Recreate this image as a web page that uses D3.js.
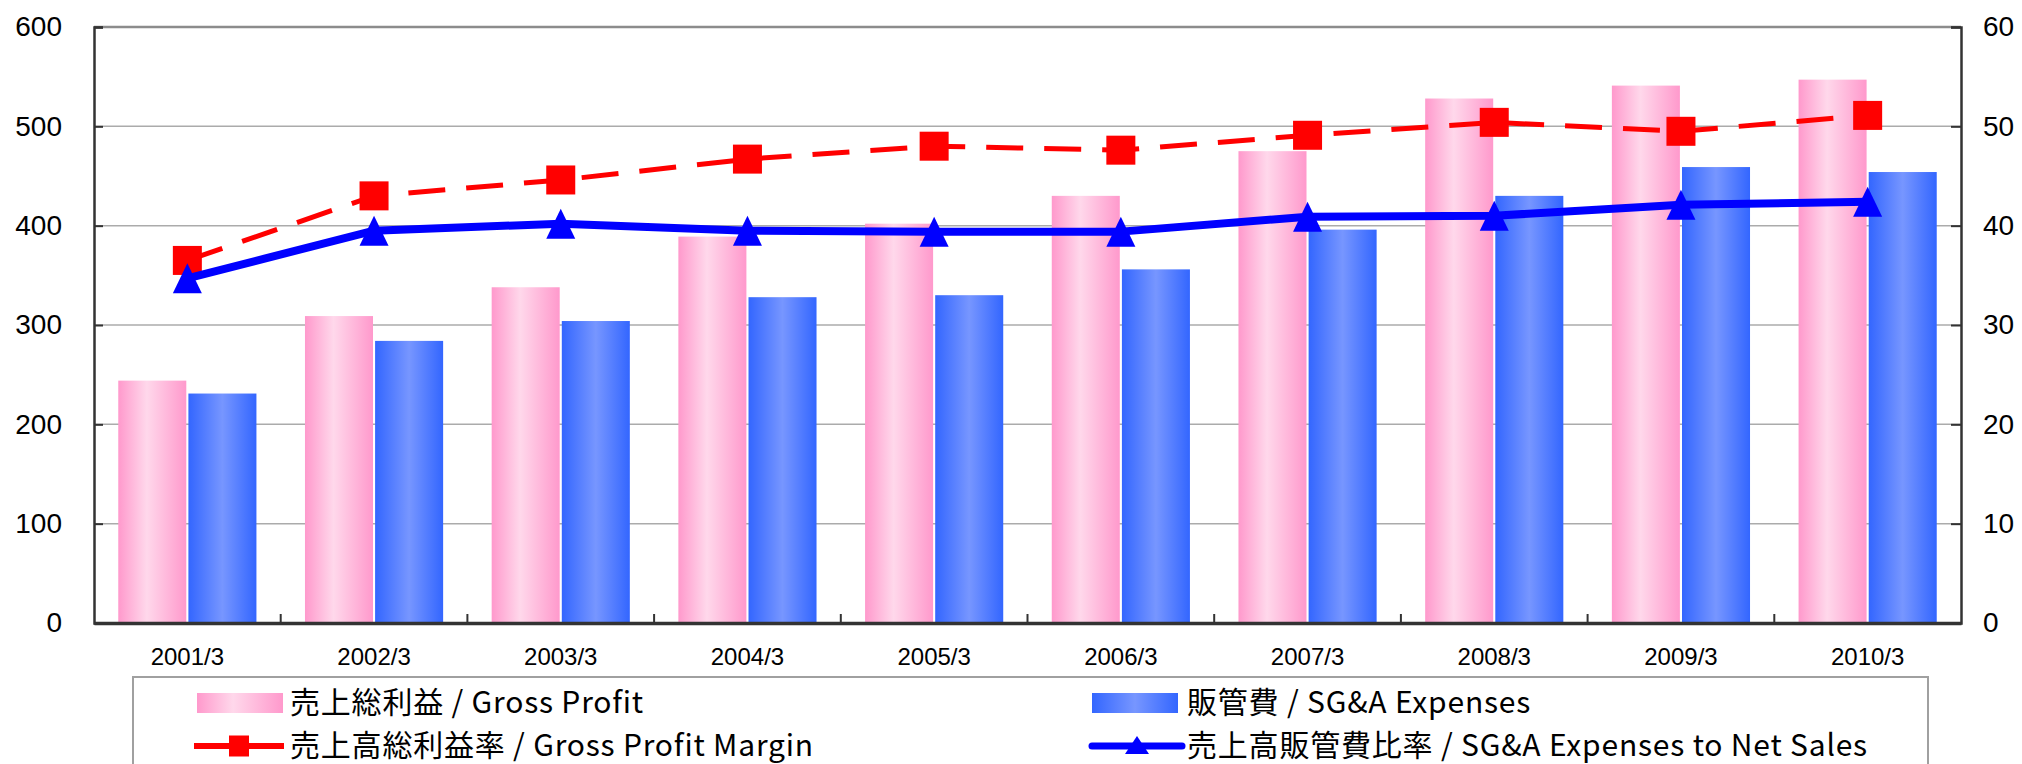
<!DOCTYPE html>
<html>
<head>
<meta charset="utf-8">
<script src="https://cdn.jsdelivr.net/npm/d3@7"></script>
<style>
  body { margin: 0; background: #fff; }
  svg { display: block; }
  .tick text { font-family: "Liberation Sans", Arial, sans-serif; fill: #000; }
  .legend text { font-family: "Noto Sans CJK JP", sans-serif; font-size: 30px; letter-spacing: 0.8px; fill: #000; }
</style>
</head>
<body>
<div id="chart"></div>
<script>
let categories = ['2001/3', '2002/3', '2003/3', '2004/3', '2005/3', '2006/3', '2007/3', '2008/3', '2009/3', '2010/3'];
let grossProfit = [244, 309, 338, 389, 402, 430, 475, 528, 541, 547];
let sgaExpenses = [231, 284, 304, 328, 330, 356, 396, 430, 459, 454];
let grossMargin = [36.5, 43.0, 44.6, 46.7, 48.0, 47.6, 49.1, 50.4, 49.5, 51.1];
let sgaRatio = [34.7, 39.5, 40.2, 39.5, 39.4, 39.4, 40.9, 41.0, 42.1, 42.4];
let leftTicks = [0, 100, 200, 300, 400, 500, 600];
let rightTicks = [0, 10, 20, 30, 40, 50, 60];
let legendLabels = ['売上総利益 / Gross Profit', '販管費 / SG&A Expenses',
                    '売上高総利益率 / Gross Profit Margin', '売上高販管費比率 / SG&A Expenses to Net Sales'];

let width = 2022,
    height = 764,
    plot = {left: 94, right: 1961, top: 27, bottom: 623};

let svg = d3.select('#chart')
  .append('svg')
    .attr('width', width)
    .attr('height', height);

// gradients for the bars
let defs = svg.append('defs');
function hGradient(id, edge, mid, midAt) {
  let g = defs.append('linearGradient').attr('id', id)
    .attr('x1', '0%').attr('x2', '100%').attr('y1', '0%').attr('y2', '0%');
  g.append('stop').attr('offset', '0%').attr('stop-color', edge);
  g.append('stop').attr('offset', midAt).attr('stop-color', mid);
  g.append('stop').attr('offset', '100%').attr('stop-color', edge);
}
hGradient('pinkGrad', '#ff99cc', '#ffd8eb', '42%');
hGradient('blueGrad', '#3366ff', '#7796ff', '50%');

let x = d3.scaleBand()
  .domain(categories)
  .range([plot.left, plot.right]);

let xInner = d3.scaleBand()
  .domain([0, 1])
  .range([x.bandwidth() * 0.13, x.bandwidth() * 0.87])
  .paddingInner(0.03);

let yLeft = d3.scaleLinear().domain([0, 600]).range([plot.bottom, plot.top]);
let yRight = d3.scaleLinear().domain([0, 60]).range([plot.bottom, plot.top]);

// gridlines
svg.append('g')
  .selectAll('line')
  .data(leftTicks.slice(1))
  .enter().append('line')
    .attr('x1', plot.left).attr('x2', plot.right)
    .attr('y1', d => yLeft(d)).attr('y2', d => yLeft(d))
    .attr('stroke', d => d === 600 ? '#8c8c8c' : '#ababab')
    .attr('stroke-width', d => d === 600 ? 2.5 : 1.5);

// bars
let barSeries = [
  {values: grossProfit, fill: 'url(#pinkGrad)'},
  {values: sgaExpenses, fill: 'url(#blueGrad)'}
];
barSeries.forEach((s, si) => {
  svg.append('g')
    .selectAll('rect')
    .data(categories)
    .enter().append('rect')
      .attr('x', d => x(d) + xInner(si))
      .attr('width', xInner.bandwidth())
      .attr('y', (d, i) => yLeft(s.values[i]))
      .attr('height', (d, i) => yLeft(0) - yLeft(s.values[i]))
      .attr('fill', s.fill);
});

// axes
let axisLeft = svg.append('g')
  .attr('transform', `translate(${plot.left},0)`)
  .call(d3.axisLeft(yLeft).tickValues(leftTicks).tickSize(-9).tickPadding(32));
let axisRight = svg.append('g')
  .attr('transform', `translate(${plot.right},0)`)
  .call(d3.axisRight(yRight).tickValues(rightTicks).tickSize(-10).tickPadding(22));
[axisLeft, axisRight].forEach(a => {
  a.select('.domain').attr('stroke', '#333').attr('stroke-width', 2.5);
  a.selectAll('.tick line').attr('stroke', '#333').attr('stroke-width', 2);
  a.selectAll('.tick text').attr('font-size', 28);
});

let axisBottom = svg.append('g')
  .attr('transform', `translate(0,${plot.bottom})`)
  .call(d3.axisBottom(x).tickSize(0).tickSizeOuter(0));
axisBottom.select('.domain').attr('stroke', '#333').attr('stroke-width', 3.5);
axisBottom.selectAll('.tick text')
  .attr('font-size', 24)
  .attr('y', 42)
  .attr('dy', null);

// category boundary ticks
svg.append('g')
  .selectAll('line')
  .data(categories.slice(1))
  .enter().append('line')
    .attr('x1', d => x(d)).attr('x2', d => x(d))
    .attr('y1', plot.bottom).attr('y2', plot.bottom - 9)
    .attr('stroke', '#333')
    .attr('stroke-width', 2);

// lines
let cx = d => x(d) + x.bandwidth() / 2;
let marginLine = d3.line()
  .x((d, i) => cx(categories[i]))
  .y(d => yRight(d));

svg.append('path')
  .datum(grossMargin)
  .attr('d', marginLine)
  .attr('fill', 'none')
  .attr('stroke', '#ff0000')
  .attr('stroke-width', 5)
  .attr('stroke-dasharray', '37,21');

svg.append('g')
  .selectAll('rect')
  .data(grossMargin)
  .enter().append('rect')
    .attr('x', (d, i) => cx(categories[i]) - 14.5)
    .attr('y', d => yRight(d) - 14.5)
    .attr('width', 29)
    .attr('height', 29)
    .attr('fill', '#ff0000');

svg.append('path')
  .datum(sgaRatio)
  .attr('d', marginLine)
  .attr('fill', 'none')
  .attr('stroke', '#0000ff')
  .attr('stroke-width', 8)
  .attr('stroke-linejoin', 'round');

function triangle(px, py, w, h) {
  return `M${px},${py - h / 2}L${px + w / 2},${py + h / 2}L${px - w / 2},${py + h / 2}Z`;
}
svg.append('g')
  .selectAll('path')
  .data(sgaRatio)
  .enter().append('path')
    .attr('d', (d, i) => triangle(cx(categories[i]), yRight(d), 29, 30))
    .attr('fill', '#0000ff');

// legend
let legend = svg.append('g').attr('class', 'legend');
legend.append('rect')
  .attr('x', 133).attr('y', 677)
  .attr('width', 1795).attr('height', 120)
  .attr('fill', '#fff')
  .attr('stroke', '#a0a0a0')
  .attr('stroke-width', 2);

let cols = [{sx: 197, tx: 290}, {sx: 1092, tx: 1187}];
let rows = [703, 746];

legend.append('rect')
  .attr('x', cols[0].sx).attr('y', rows[0] - 10)
  .attr('width', 86).attr('height', 20)
  .attr('fill', 'url(#pinkGrad)');
legend.append('rect')
  .attr('x', cols[1].sx).attr('y', rows[0] - 10)
  .attr('width', 86).attr('height', 20)
  .attr('fill', 'url(#blueGrad)');

legend.append('line')
  .attr('x1', cols[0].sx - 3).attr('x2', cols[0].sx + 87)
  .attr('y1', rows[1]).attr('y2', rows[1])
  .attr('stroke', '#ff0000').attr('stroke-width', 6);
legend.append('rect')
  .attr('x', cols[0].sx + 32).attr('y', rows[1] - 10.5)
  .attr('width', 20).attr('height', 21)
  .attr('fill', '#ff0000');

legend.append('line')
  .attr('x1', cols[1].sx).attr('x2', cols[1].sx + 90)
  .attr('y1', rows[1]).attr('y2', rows[1])
  .attr('stroke', '#0000ff').attr('stroke-width', 7)
  .attr('stroke-linecap', 'round');
legend.append('path')
  .attr('d', triangle(cols[1].sx + 45, rows[1] - 1, 24, 18))
  .attr('fill', '#0000ff');

legend.selectAll('text.lbl')
  .data(legendLabels)
  .enter().append('text')
    .attr('class', 'lbl')
    .attr('x', (d, i) => cols[i % 2].tx)
    .attr('y', (d, i) => rows[Math.floor(i / 2)])
    .attr('dy', '0.34em')
    .text(d => d);
</script>
</body>
</html>
